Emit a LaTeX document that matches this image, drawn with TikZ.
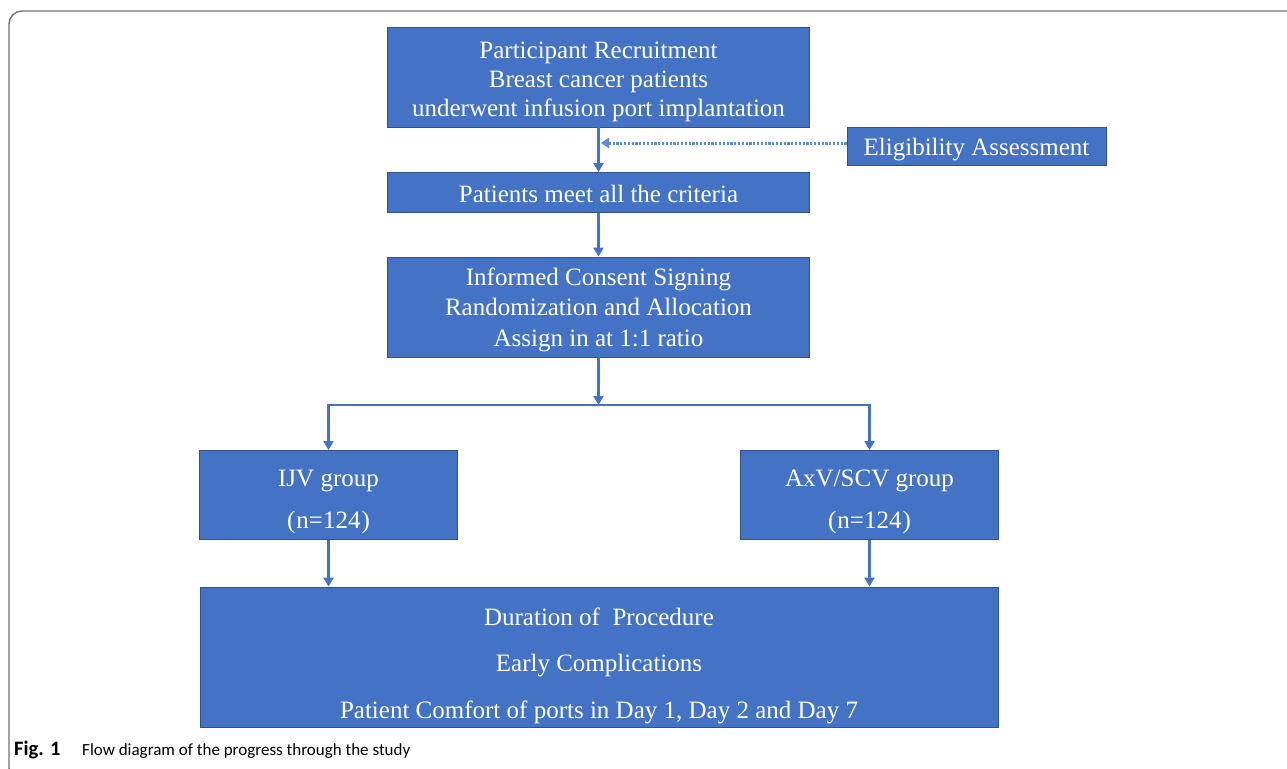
\documentclass[tikz,border=0pt]{standalone}
\usepackage{fontspec}
\setmainfont{Liberation Serif}
\newfontfamily\capfont{Carlito}
\usetikzlibrary{arrows.meta}
\definecolor{boxblue}{HTML}{4472C4}
\definecolor{boxedge}{HTML}{2F528F}
\definecolor{linkblue}{HTML}{4472C4}
\definecolor{dotblue}{HTML}{5A8CD8}
\definecolor{framegray}{HTML}{707070}
\begin{document}
\begin{tikzpicture}[x=1pt,y=-1pt,
  blk/.style={draw=boxedge,line width=0.9pt,fill=boxblue,inner sep=0pt},
  lbl/.style={text=white,inner sep=0pt,align=center,font=\fontsize{25}{#1}\selectfont},
  lbl/.default=29,
  link/.style={draw=linkblue,line width=2.8pt,-{Triangle[width=10pt,length=9pt]}},
  plainlink/.style={draw=linkblue,line width=2.8pt},
  dotlink/.style={draw=dotblue,line width=3pt,dash pattern=on 2.2pt off 1.6pt,-{Triangle[width=10pt,length=8pt]}},
  captext/.style={anchor=base west,inner sep=0pt,text=black,font=\capfont\fontsize{17}{20}\selectfont}
]
\useasboundingbox (0,0) rectangle (1287,768);
% frame
\draw[framegray,line width=1.4pt,rounded corners=13pt] (1295,11) -- (9,11) -- (9,781) -- (40,781);
% boxes
\node[blk,minimum width=422,minimum height=100] (rec) at (598.5,77) {};
\node[lbl] (recT) at ([yshift=-4.5pt]rec.center) {Participant Recruitment\\Breast cancer patients\\underwent infusion port implantation};
\node[blk,minimum width=259,minimum height=38] (elig) at (976.5,146) {};
\node[lbl] (eligT) at ([yshift=-4pt]elig.center) {Eligibility Assessment};
\node[blk,minimum width=422,minimum height=40] (meet) at (598.5,192.5) {};
\node[lbl] (meetT) at ([yshift=-1pt]meet.center) {Patients meet all the criteria};
\node[blk,minimum width=422,minimum height=100] (cons) at (598.5,307) {};
\node[lbl=30.5] (consT) at ([yshift=-2.5pt]cons.center) {Informed Consent Signing\\Randomization and Allocation\\Assign in at 1:1 ratio};
\node[blk,minimum width=258,minimum height=89] (ijv) at (328.5,495) {};
\node[lbl=42] (ijvT) at ([yshift=-7pt]ijv.center) {IJV group\\(\kern1pt n=124\kern1pt)};
\node[blk,minimum width=258,minimum height=89] (axv) at (869.5,495) {};
\node[lbl=42] (axvT) at ([yshift=-7pt]axv.center) {AxV/SCV group\\(\kern1pt n=124\kern1pt)};
\node[blk,minimum width=798,minimum height=140] (out) at (599,657) {};
\node[lbl=46.5] (outT) at ([yshift=-8.5pt]out.center) {Duration of\ \ Procedure\\Early Complications\\Patient Comfort of ports in Day 1, Day 2 and Day 7};
% connectors
\draw[link] (rec.south) -- (meet.north);
\draw[dotlink] ([yshift=3pt]elig.west) -- ([xshift=2.5pt,yshift=3pt]elig.west -| rec.south);
\draw[link] (meet.south) -- (cons.north);
\coordinate (split) at (598.5,405);
\draw[link] (cons.south) -- (split);
\draw[plainlink] ([xshift=-1.4pt]split -| ijv.north) -- ([xshift=1.4pt]split -| axv.north);
\draw[link] (split -| ijv.north) -- (ijv.north);
\draw[link] (split -| axv.north) -- (axv.north);
\draw[link] (ijv.south) -- (ijv.south |- out.north);
\draw[link] (axv.south) -- (axv.south |- out.north);
% caption
\node[captext,font=\capfont\bfseries\fontsize{20.5}{22}\selectfont] (figlab) at (14,755) {Fig. 1};
\node[captext] (captxt) at (82,755) {Flow diagram of the progress through the study};
\end{tikzpicture}
\end{document}
